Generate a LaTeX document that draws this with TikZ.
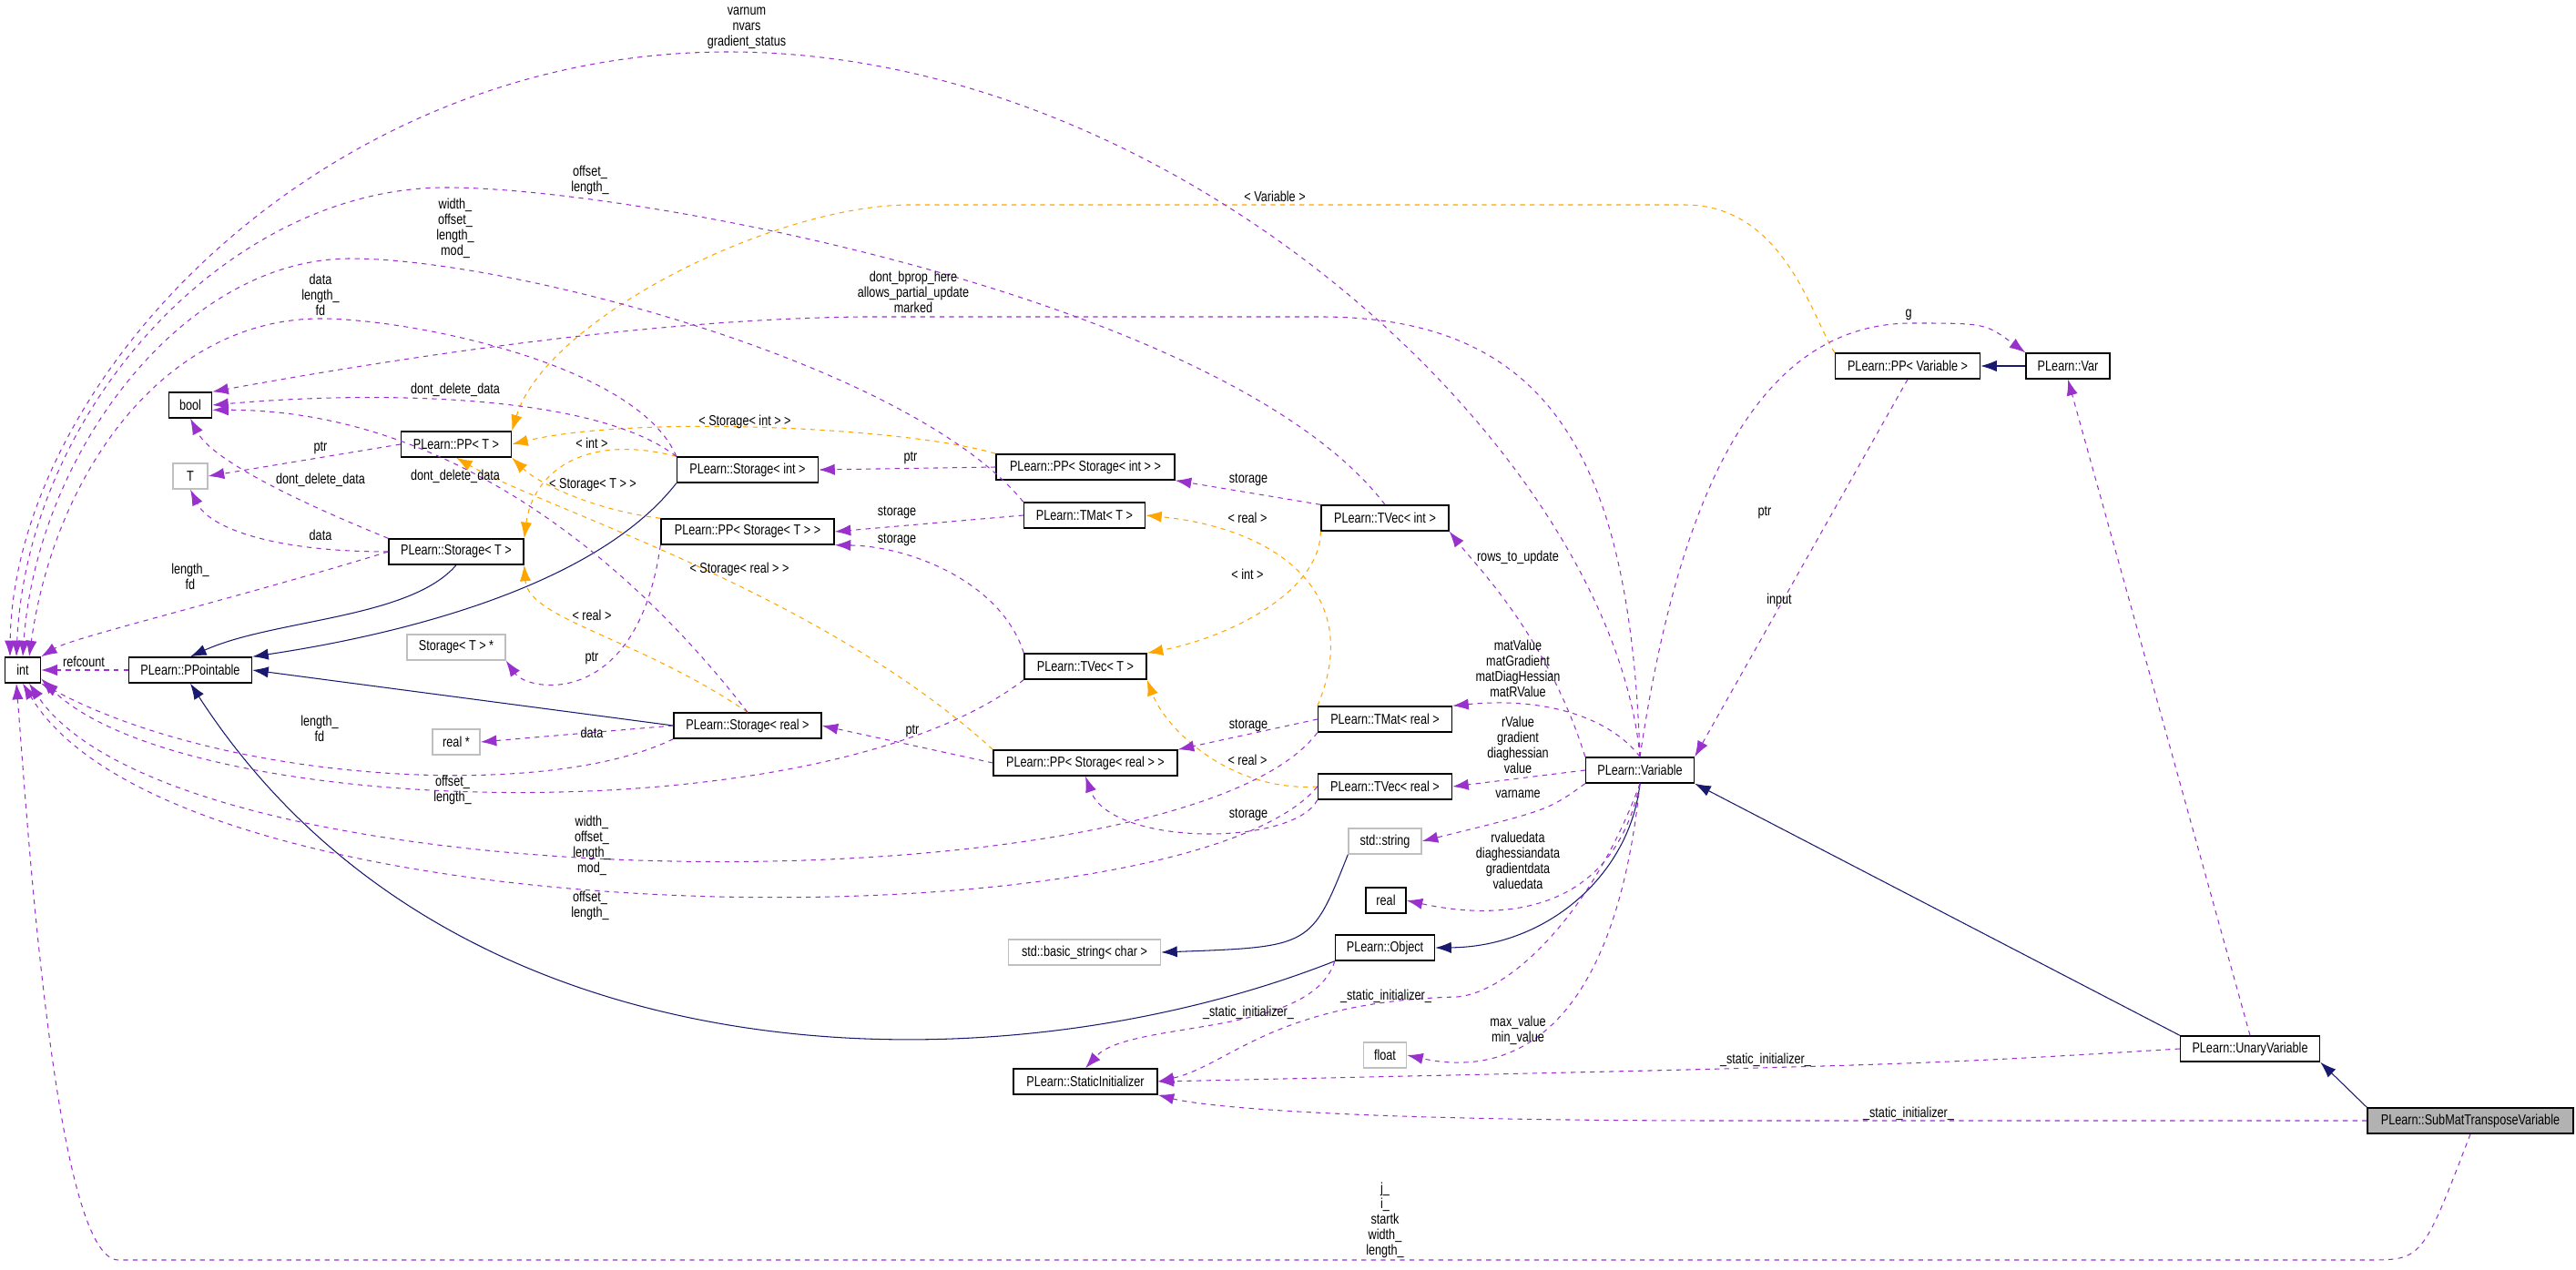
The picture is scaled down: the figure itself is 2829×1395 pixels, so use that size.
\documentclass[tikz,border=0pt]{standalone}
\usepackage{fontspec}
\setmainfont{Liberation Sans}[FakeStretch=0.8]
\usetikzlibrary{arrows.meta}
\definecolor{depcol}{RGB}{153,50,204}
\definecolor{tplcol}{RGB}{255,165,0}
\definecolor{inhcol}{RGB}{25,25,112}

\tikzset{
  cls/.style={draw=black, line width=0.8pt, fill=white, minimum height=0.56cm, inner sep=1pt, font=\fontsize{9}{10}\selectfont},
  ext/.style={cls, draw=black!25},
  cur/.style={cls, fill=black!30},
  lbl/.style={align=center, inner sep=0pt, text=black, font=\fontsize{9}{9.7}\selectfont},
  dep/.style={depcol, dashed, line width=0.6pt, -{Latex[length=10pt,width=7pt]}},
  tpl/.style={tplcol, dashed, line width=0.6pt, -{Latex[length=10pt,width=7pt]}},
  inh/.style={inhcol, line width=0.6pt, -{Latex[length=10pt,width=7pt]}}
}

\begin{document}
\begin{tikzpicture}[x=0.02cm, y=-0.02cm]
        \useasboundingbox (0,0) rectangle (2829,1395);

        % Classes
        \node[cls, minimum width=0.78cm] (int) at (25,736) {int};
        \node[cls, minimum width=0.94cm] (bool) at (209,445) {bool};
        \node[ext, minimum width=0.76cm] (T) at (209,523) {T};
        \node[cls, minimum width=2.42cm] (PPT) at (501,488) {PLearn::PP< T >};
        \node[cls, minimum width=3.1cm] (StorInt) at (821,516) {PLearn::Storage< int >};
        \node[cls, minimum width=3.92cm] (PPStorInt) at (1192,513) {PLearn::PP< Storage< int > >};
        \node[cls, minimum width=2.66cm] (TMatT) at (1191,566) {PLearn::TMat< T >};
        \node[cls, minimum width=2.8cm] (TVecInt) at (1521,569) {PLearn::TVec< int >};
        \node[cls, minimum width=3.8cm] (PPStorT) at (821,584) {PLearn::PP< Storage< T > >};
        \node[cls, minimum width=2.96cm] (StorT) at (501,606) {PLearn::Storage< T >};
        \node[ext, minimum width=2.16cm] (StorTp) at (501,711) {Storage< T > *};
        \node[cls, minimum width=2.7cm] (PPointable) at (209,736) {PLearn::PPointable};
        \node[cls, minimum width=2.68cm] (TVecT) at (1192,732) {PLearn::TVec< T >};
        \node[ext, minimum width=1.04cm] (realp) at (501,815) {real *};
        \node[cls, minimum width=3.24cm] (StorReal) at (821,797) {PLearn::Storage< real >};
        \node[cls, minimum width=4.04cm] (PPStorReal) at (1192,838) {PLearn::PP< Storage< real > >};
        \node[cls, minimum width=2.94cm] (TMatReal) at (1521,790) {PLearn::TMat< real >};
        \node[cls, minimum width=2.94cm] (TVecReal) at (1521,864) {PLearn::TVec< real >};
        \node[cls, minimum width=2.38cm] (Variable) at (1801,846) {PLearn::Variable};
        \node[ext, minimum width=1.6cm] (string) at (1521,924) {std::string};
        \node[cls, minimum width=0.88cm] (real) at (1522,989) {real};
        \node[ext, minimum width=3.34cm] (basicstr) at (1191,1046) {std::basic\_string< char >};
        \node[cls, minimum width=2.18cm] (Object) at (1521,1041) {PLearn::Object};
        \node[ext, minimum width=0.94cm] (float) at (1521,1159) {float};
        \node[cls, minimum width=3.16cm] (SI) at (1192,1188) {PLearn::StaticInitializer};
        \node[cls, minimum width=3.18cm] (PPVar) at (2095,402) {PLearn::PP< Variable >};
        \node[cls, minimum width=1.84cm] (Var) at (2271,402) {PLearn::Var};
        \node[cls, minimum width=3.06cm] (Unary) at (2471,1152) {PLearn::UnaryVariable};
        \node[cur, minimum width=4.52cm] (SubMat) at (2713,1231) {PLearn::SubMatTransposeVariable};

        % Inheritance
        \draw[inh] (StorT.south) .. controls (450,680) and (300,680) .. (PPointable.north);
        \draw[inh] (StorInt.south west) .. controls (650,650) and (420,700) .. (PPointable.north east);
        \draw[inh] (StorReal.west) -- (PPointable.east);
        \draw[inh] (Object.south west) .. controls (1100,1200) and (500,1200) .. (PPointable.south);
        \draw[inh] (Variable.south) .. controls (1790,960) and (1700,1040) .. (Object.east);
        \draw[inh] (string.south west) .. controls (1440,1040) .. (basicstr.east);
        \draw[inh] (Unary.north west) -- (Variable.south east);
        \draw[inh] (SubMat.north west) -- (Unary.south east);
        \draw[inh] (Var.west) -- (PPVar.east);

        % Template instances
        \draw[tpl] (PPVar.north west) .. controls (1990,350) and (1960,225) .. (1850,225) -- (1000,225) .. controls (850,225) and (600,350) .. (PPT.north east)
          node[lbl, at={(1400,216)}] (lVarT) {< Variable >};
        \draw[tpl] (PPStorInt.north west) .. controls (1000,470) and (700,455) .. (PPT.east)
          node[lbl, at={(818,463)}] (lStorIntT) {< Storage< int > >};
        \draw[tpl] (PPStorT.north west) .. controls (650,560) and (590,530) .. (PPT.south east)
          node[lbl, at={(651,533)}] (lStorTT) {< Storage< T > >};
        \draw[tpl] (PPStorReal.north west) .. controls (900,650) and (600,560) .. (PPT.south)
          node[lbl, at={(812,625)}] (lStorRealT) {< Storage< real > >};
        \draw[tpl] (StorInt.north west) .. controls (640,475) and (585,520) .. (StorT.north east)
          node[lbl, at={(650,487)}] (lIntT) {< int >};
        \draw[tpl] (StorReal.north) .. controls (700,700) and (580,680) .. (StorT.south east)
          node[lbl, at={(650,676)}] (lRealT) {< real >};
        \draw[tpl] (TMatReal.north west) .. controls (1500,650) and (1400,580) .. (TMatT.east)
          node[lbl, at={(1370,569)}] (lMatRealT) {< real >};
        \draw[tpl] (TVecInt.south west) .. controls (1450,650) and (1350,700) .. (TVecT.north east)
          node[lbl, at={(1370,631)}] (lVecIntT) {< int >};
        \draw[tpl] (TVecReal.west) .. controls (1350,870) and (1280,800) .. (TVecT.south east)
          node[lbl, at={(1370,835)}] (lVecRealT) {< real >};

        % Members pointing to int
        \draw[dep] (Variable.north) .. controls (1770,500) and (1300,57) .. (800,57) .. controls (350,57) and (15,420) .. ([xshift=-8pt]int.north)
          node[lbl, at={(820,31)}] (lVarInt) {varnum\\nvars\\gradient\_status};
        \draw[dep] (TVecInt.north) .. controls (1350,330) and (700,206) .. (490,206) .. controls (250,206) and (30,450) .. ([xshift=-4pt]int.north)
          node[lbl, at={(648,198)}] (lVecIntInt) {offset\_\\length\_};
        \draw[dep] (TMatT.north west) .. controls (1000,400) and (560,284) .. (385,284) .. controls (200,284) and (40,500) .. (int.north)
          node[lbl, at={(500,251)}] (lMatTInt) {width\_\\offset\_\\length\_\\mod\_};
        \draw[dep] (StorInt.north west) .. controls (700,400) and (450,350) .. (352,350) .. controls (180,350) and (60,520) .. ([xshift=4pt]int.north)
          node[lbl, at={(352,324)}] (lStorIntInt) {data\\length\_\\fd};
        \draw[dep] (StorT.west) .. controls (250,660) and (80,700) .. (int.north east)
          node[lbl, at={(209,633)}] (lStorTInt) {length\_\\fd};
        \draw[dep] (PPointable.west) -- (int.east)
          node[lbl, at={(92,727)}] (lRef) {refcount};
        \draw[dep] (StorReal.south west) .. controls (600,880) and (250,860) .. (int.south east)
          node[lbl, at={(351,800)}] (lStorRealInt) {length\_\\fd};
        \draw[dep] (TVecT.south west) .. controls (900,920) and (200,900) .. ([yshift=3pt]int.south east)
          node[lbl, at={(497,868)}] (lVecTInt) {offset\_\\length\_};
        \draw[dep] (TMatReal.south west) .. controls (1300,1000) and (200,1000) .. ([xshift=4pt]int.south)
          node[lbl, at={(650,929)}] (lMatRealInt) {width\_\\offset\_\\length\_\\mod\_};
        \draw[dep] (TVecReal.west) .. controls (1300,1040) and (200,1040) .. (int.south)
          node[lbl, at={(648,995)}] (lVecRealInt) {offset\_\\length\_};
        \draw[dep] (SubMat.south) .. controls (2660,1384) .. (2600,1384) -- (130,1384) .. controls (60,1384) and (30,900) .. ([xshift=-4pt]int.south)
          node[lbl, at={(1521,1340)}] (lSubInt) {j\_\\i\_\\startk\\width\_\\length\_};

        % Members pointing to bool and T
        \draw[dep] (Variable.north) .. controls (1790,500) and (1700,348) .. (1450,348) -- (950,348) .. controls (700,350) and (400,400) .. (bool.north east)
          node[lbl, at={(1003,321)}] (lVarBool) {dont\_bprop\_here\\allows\_partial\_update\\marked};
        \draw[dep] (StorInt.north west) .. controls (650,430) and (400,430) .. (bool.east)
          node[lbl, at={(500,428)}] (lStorIntBool) {dont\_delete\_data};
        \draw[dep] (StorT.north west) .. controls (300,540) and (230,500) .. (bool.south)
          node[lbl, at={(352,527)}] (lStorTBool) {dont\_delete\_data};
        \draw[dep] (StorReal.north) .. controls (680,600) and (480,450) .. ([yshift=-3pt]bool.east)
          node[lbl, at={(500,523)}] (lStorRealBool) {dont\_delete\_data};
        \draw[dep] (PPT.west) -- (T.east)
          node[lbl, at={(352,492)}] (lPPTT) {ptr};
        \draw[dep] (StorT.west) .. controls (300,606) and (230,580) .. (T.south)
          node[lbl, at={(352,588)}] (lStorTT2) {data};

        % Storage pointers
        \draw[dep] (PPStorInt.west) -- (StorInt.east)
          node[lbl, at={(1000,503)}] (lPPStorInt) {ptr};
        \draw[dep] (PPStorT.south west) .. controls (700,780) and (580,760) .. (StorTp.south east)
          node[lbl, at={(650,723)}] (lPPStorT) {ptr};
        \draw[dep] (TMatT.west) -- (PPStorT.east)
          node[lbl, at={(985,563)}] (lMatTStor) {storage};
        \draw[dep] (TVecT.north west) .. controls (1100,640) and (1000,600) .. (PPStorT.south east)
          node[lbl, at={(985,593)}] (lVecTStor) {storage};
        \draw[dep] (TVecInt.north west) -- (PPStorInt.south east)
          node[lbl, at={(1371,527)}] (lVecIntStor) {storage};
        \draw[dep] (TMatReal.west) -- (PPStorReal.north east)
          node[lbl, at={(1371,797)}] (lMatRealStor) {storage};
        \draw[dep] (TVecReal.south west) .. controls (1420,930) and (1220,930) .. (PPStorReal.south)
          node[lbl, at={(1371,895)}] (lVecRealStor) {storage};
        \draw[dep] (PPStorReal.west) -- (StorReal.east)
          node[lbl, at={(1002,803)}] (lPPStorReal) {ptr};
        \draw[dep] (StorReal.west) -- (realp.east)
          node[lbl, at={(650,805)}] (lStorRealData) {data};

        % Variable members
        \draw[dep] (Variable.north west) .. controls (1700,700) and (1620,620) .. (TVecInt.south east)
          node[lbl, at={(1667,612)}] (lRows) {rows\_to\_update};
        \draw[dep] (Variable.north) .. controls (1770,790) and (1700,765) .. (TMatReal.north east)
          node[lbl, at={(1667,734)}] (lMat) {matValue\\matGradient\\matDiagHessian\\matRValue};
        \draw[dep] (Variable.west) -- (TVecReal.east)
          node[lbl, at={(1667,818)}] (lVec) {rValue\\gradient\\diaghessian\\value};
        \draw[dep] (Variable.south west) .. controls (1700,890) .. (string.east)
          node[lbl, at={(1667,872)}] (lName) {varname};
        \draw[dep] (Variable.south) .. controls (1770,1010) and (1640,1010) .. (real.east)
          node[lbl, at={(1667,945)}] (lData) {rvaluedata\\diaghessiandata\\gradientdata\\valuedata};
        \draw[dep] (Variable.south) .. controls (1770,1160) and (1640,1180) .. (float.east)
          node[lbl, at={(1667,1132)}] (lMinMax) {max\_value\\min\_value};
        \draw[dep] (Variable.south) .. controls (1750,1000) and (1660,1090) .. (1600,1095) .. controls (1400,1100) and (1350,1170) .. (SI.east)
          node[lbl, at={(1522,1094)}] (lVarSI) {\_static\_initializer\_};
        \draw[dep] (Object.south west) .. controls (1440,1140) and (1240,1120) .. (SI.north)
          node[lbl, at={(1371,1112)}] (lObjSI) {\_static\_initializer\_};
        \draw[dep] (Unary.west) .. controls (2100,1170) .. (SI.east)
          node[lbl, at={(1939,1164)}] (lUnSI) {\_static\_initializer\_};
        \draw[dep] (SubMat.west) -- (1900,1231) .. controls (1400,1231) and (1300,1210) .. (SI.south east)
          node[lbl, at={(2096,1223)}] (lSubSI) {\_static\_initializer\_};

        % Var and PP< Variable >
        \draw[dep] (PPVar.south) -- (Variable.north east)
          node[lbl, at={(1938,563)}] (lPPVar) {ptr};
        \draw[dep] (Variable.north) .. controls (1850,500) and (1950,355) .. (2100,355) .. controls (2180,355) .. (Var.north west)
          node[lbl, at={(2096,346)}] (lG) {g};
        \draw[dep] (Unary.north) -- (Var.south)
          node[lbl, at={(1954,659)}] (lInput) {input};
        \end{tikzpicture}
\end{document}
